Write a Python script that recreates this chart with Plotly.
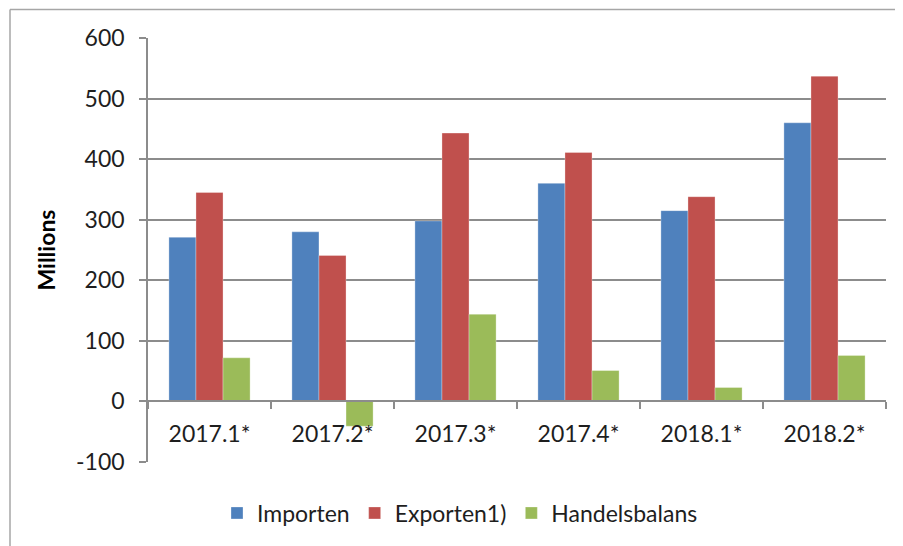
import plotly.graph_objects as go

categories = ["2017.1*", "2017.2*", "2017.3*", "2017.4*", "2018.1*", "2018.2*"]
importen = [271, 280, 298, 360, 315, 460]
exporten = [345, 241, 443, 411, 338, 537]
handelsbalans = [72, -41, 144, 51, 23, 76]
series_names = ["Importen", "Exporten1)", "Handelsbalans"]
colors = ["#4F81BD", "#C0504D", "#9BBB59"]
y_ticks = [-100, 0, 100, 200, 300, 400, 500, 600]
y_ticktext = ["-100", "0", "100", "200", "300", "400", "500", "600"]

# page body has an 8px default margin; work in screen pixels and convert
OFF = 8
W, H = 903 - OFF, 546 - OFF
ml = 148 - OFF
mt = 38 - OFF
mr = W - (886 - OFF)
mb = H - (462 - OFF)
FONT = "Lato, 'Open Sans', sans-serif"
GRID = "#8C8C8C"
TXT = "#1E1E1E"

fig = go.Figure()
for name, vals, col in zip(series_names, [importen, exporten, handelsbalans], colors):
    fig.add_trace(go.Bar(
        x=categories, y=vals, name=name,
        marker=dict(color=col, line=dict(width=0.6, color="rgba(255,255,255,0.5)")),
    ))

pw = W - ml - mr
ph = H - mt - mb
def px(xs):
    return (xs - OFF - ml) / pw
def py(ys):
    return (H - mb - (ys - OFF)) / ph

shapes = [
    dict(type="line", xref="paper", yref="paper", x0=px(10), x1=px(910), y0=py(9.5), y1=py(9.5),
         line=dict(color="#A6A6A6", width=1.5)),
    dict(type="line", xref="paper", yref="paper", x0=px(10), x1=px(10), y0=py(9.5), y1=py(560),
         line=dict(color="#A6A6A6", width=1.5)),
]

fig.update_layout(
    width=W, height=H,
    margin=dict(l=ml, r=mr, t=mt, b=mb, autoexpand=False),
    paper_bgcolor="white", plot_bgcolor="white",
    barmode="group", bargap=0.34, bargroupgap=0,
    font=dict(family=FONT, size=23, color=TXT),
    showlegend=True,
    legend=dict(orientation="h", x=px(460), xanchor="center", y=py(513), yanchor="middle",
                font=dict(size=23, color=TXT), itemwidth=30, traceorder="normal"),
    shapes=shapes,
    xaxis=dict(
        type="category", anchor="free", position=1/7, automargin=False,
        showline=True, linecolor=GRID, linewidth=1.5,
        ticks="outside", tickson="boundaries", ticklen=7, tickcolor=GRID, tickwidth=1.5,
        showgrid=False, zeroline=False,
        tickfont=dict(size=23, color=TXT), ticklabelstandoff=12,
    ),
    yaxis=dict(
        range=[-100, 600], tickvals=y_ticks, ticktext=y_ticktext, automargin=False,
        showline=True, linecolor=GRID, linewidth=1.5,
        ticks="outside", ticklen=7, tickcolor=GRID, tickwidth=1.5,
        showgrid=True, gridcolor=GRID, gridwidth=1.5,
        zeroline=False,
        tickfont=dict(size=23, color=TXT), ticklabelstandoff=10,
        title=dict(text="<b>Millions</b>", font=dict(size=23, color="#000000"), standoff=14),
    ),
)

fig.write_html("out.html")
